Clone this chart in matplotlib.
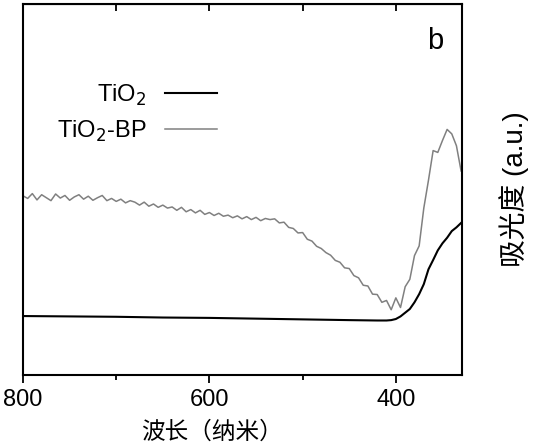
import matplotlib.pyplot as plt
from matplotlib.ticker import MultipleLocator

plt.rcParams['font.family'] = ['Liberation Sans', 'Noto Sans CJK SC', 'DejaVu Sans']

# TiO2-BP (grey), every 5 nm from 800 down to 330
wl_bp = list(range(800, 325, -5))
abs_bp = [0.483, 0.476, 0.489, 0.472, 0.486, 0.478, 0.470, 0.488, 0.477, 0.484,
          0.471, 0.480, 0.486, 0.474, 0.482, 0.471, 0.478, 0.484, 0.470, 0.476,
          0.468, 0.474, 0.464, 0.470, 0.466, 0.458, 0.466, 0.455, 0.461, 0.452,
          0.458, 0.450, 0.453, 0.444, 0.452, 0.440, 0.446, 0.437, 0.444, 0.433,
          0.438, 0.430, 0.436, 0.428, 0.431, 0.424, 0.429, 0.421, 0.427, 0.419,
          0.425, 0.416, 0.422, 0.419, 0.421, 0.410, 0.412, 0.398, 0.395, 0.383,
          0.384, 0.366, 0.361, 0.347, 0.341, 0.330, 0.323, 0.309, 0.304, 0.289,
          0.287, 0.268, 0.262, 0.242, 0.240, 0.218, 0.217, 0.196, 0.201, 0.176,
          0.208, 0.182, 0.238, 0.258, 0.322, 0.348, 0.450, 0.525, 0.605, 0.600,
          0.632, 0.662, 0.650, 0.618, 0.550]

# TiO2 (black)
wl_ti = [800, 750, 700, 650, 600, 550, 500, 450, 420, 410, 405, 400, 395, 390,
         385, 380, 375, 370, 365, 360, 355, 350, 345, 340, 335, 330]
abs_ti = [0.159, 0.158, 0.157, 0.155, 0.154, 0.152, 0.150, 0.148, 0.147, 0.147,
          0.148, 0.151, 0.158, 0.168, 0.178, 0.196, 0.218, 0.245, 0.285, 0.310,
          0.336, 0.355, 0.370, 0.388, 0.398, 0.410]

fig = plt.figure(figsize=(5.4, 4.47), dpi=100)
ax = fig.add_axes([0.0426, 0.161, 0.813, 0.830])

ax.plot(wl_ti, abs_ti, color='black', lw=1.5, label='TiO$_2$')
ax.plot(wl_bp, abs_bp, color='#808080', lw=1.1, label='TiO$_2$-BP')

ax.set_xlim(800, 329)
ax.set_ylim(0, 1)
ax.set_yticks([])
ax.xaxis.set_major_locator(MultipleLocator(200))
ax.xaxis.set_minor_locator(MultipleLocator(100))
ax.tick_params(axis='x', which='major', direction='out', length=6, width=1.3,
               labelsize=17, pad=4)
ax.tick_params(axis='x', which='minor', direction='out', length=3.5, width=1.3)
for s in ax.spines.values():
    s.set_linewidth(1.5)

top = ax.secondary_xaxis('top')
top.set_xticks([700, 600, 500, 400])
top.tick_params(direction='in', length=5, width=1.3, labeltop=False)

ax.set_xlabel('波长（纳米）', fontsize=17)
ax.xaxis.set_label_coords(0.43, -0.125)
ax.yaxis.set_label_position('right')
ax.set_ylabel('吸光度 (a.u.)', fontsize=20, rotation=90)
ax.yaxis.set_label_coords(1.085, 0.5)

ax.text(0.94, 0.9, 'b', transform=ax.transAxes, fontsize=21,
        ha='center', va='center')

ax.legend(loc='upper left', bbox_to_anchor=(0.05, 0.82), frameon=False,
          markerfirst=False, fontsize=17, handlelength=2.2,
          labelspacing=0.45, borderpad=0)

fig.savefig('out.png', dpi=100)
